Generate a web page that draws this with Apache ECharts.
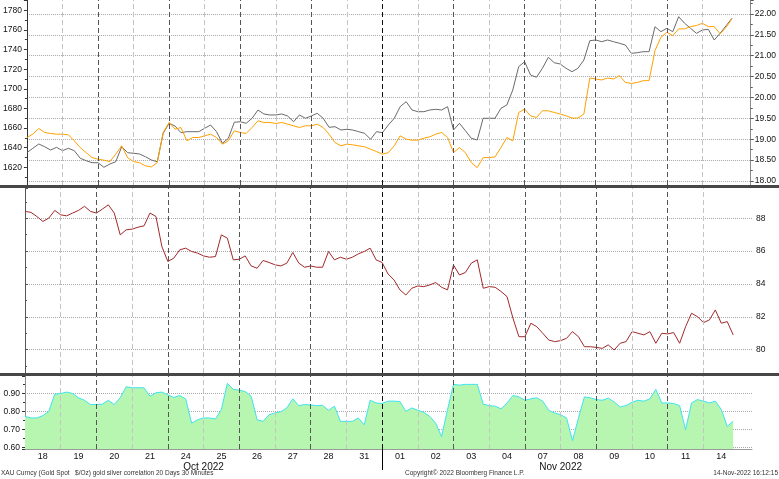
<!DOCTYPE html>
<html>
<head>
<meta charset="utf-8">
<script src="https://cdn.jsdelivr.net/npm/echarts@6/dist/echarts.min.js"></script>
<style>
html,body{margin:0;padding:0;background:#fff;}
#chart{width:779px;height:479px;}
</style>
</head>
<body>
<div id="chart"></div>
<script>
// Trading days shown on the x axis (weekends skipped, one slot per day)
const dayLabels = ['18','19','20','21','24','25','26','27','28','31','01','02','03','04','07','08','09','10','11','14'];
const monthLabels = ['Oct 2022','Nov 2022'];
const monthStartDay = [0, 10];
// sampling step of all series, in trading days
const STEP = 1/6;

// Gold spot (left axis, USD/oz)
const gold = [1650.4,1653.8,1659.6,1655.5,1654.5,1653.8,1653.8,1653.1,1647.0,1640.1,
1635.0,1629.9,1628.3,1627.3,1625.8,1633.4,1641.9,1629.9,1625.8,1624.8,
1621.5,1620.4,1624.8,1655.5,1665.7,1658.9,1660.6,1647.0,1650.4,1650.4,
1652.1,1653.8,1650.4,1643.6,1647.0,1657.2,1655.5,1654.5,1660.6,1667.4,
1665.7,1665.7,1664.7,1665.7,1664.0,1662.3,1660.6,1662.3,1662.3,1664.0,
1660.6,1653.8,1645.3,1641.9,1643.6,1642.9,1641.9,1640.9,1638.5,1636.1,
1633.4,1635.0,1641.9,1652.1,1648.7,1647.7,1647.7,1649.7,1651.1,1653.8,
1655.5,1650.4,1635.0,1640.1,1635.0,1624.8,1619.7,1629.9,1629.9,1630.6,
1640.1,1650.4,1647.0,1675.9,1679.4,1672.5,1670.8,1677.6,1677.6,1675.9,
1674.3,1672.5,1670.2,1670.2,1674.3,1711.0,1710.0,1709.0,1711.0,1710.0,
1713.4,1706.5,1705.5,1706.5,1708.3,1708.3,1738.9,1752.5,1757.6,1754.2,
1761.1,1761.1,1763.4,1764.5,1766.8,1763.4,1763.4,1756.0,1762.7,1771.3];

// Silver spot (right axis, USD/oz)
const silver = [18.678,18.783,18.886,18.821,18.742,18.807,18.726,18.783,18.726,18.544,
18.486,18.438,18.438,18.328,18.407,18.462,18.821,18.678,18.663,18.647,
18.582,18.503,18.462,19.142,19.382,19.317,19.157,19.181,19.181,19.181,
19.262,19.341,19.181,18.903,19.023,19.406,19.420,19.382,19.502,19.700,
19.605,19.581,19.581,19.605,19.557,19.420,19.581,19.502,19.557,19.621,
19.502,19.286,19.300,19.221,19.238,19.221,19.181,19.142,18.999,19.181,
19.157,19.341,19.502,19.780,19.900,19.700,19.660,19.660,19.700,19.717,
19.700,19.780,19.221,19.382,19.205,19.023,18.982,19.502,19.502,19.502,
19.741,19.820,20.179,20.738,20.857,20.539,20.484,20.699,20.962,20.833,
20.802,20.699,20.618,20.699,20.898,21.360,21.377,21.336,21.377,21.336,
21.298,21.257,21.058,21.073,21.097,21.097,21.695,21.576,21.657,21.576,
21.935,21.777,21.657,21.537,21.616,21.633,21.377,21.537,21.720,21.897];

// Gold / silver ratio
const ratio = [88.42,88.36,88.11,87.81,88.01,88.48,88.21,88.15,88.32,88.48,
88.73,88.42,88.32,88.56,88.82,88.32,86.99,87.30,87.34,87.46,
87.54,88.32,88.11,86.28,85.37,85.57,86.08,86.18,85.98,85.88,
85.71,85.63,85.67,86.99,86.79,85.47,85.51,85.71,85.10,84.96,
85.43,85.31,85.17,85.10,85.27,85.92,85.27,85.02,85.10,85.02,
85.02,85.98,85.47,85.63,85.51,85.63,85.83,85.98,86.18,85.47,
85.31,84.61,84.25,83.64,83.33,83.74,83.88,83.84,83.94,84.09,
83.80,83.64,85.16,84.55,84.70,85.27,85.47,83.74,83.84,83.80,
83.54,83.23,81.91,80.79,80.79,81.61,81.40,81.00,80.59,80.49,
80.55,80.69,81.10,80.79,80.18,80.18,80.14,80.08,80.29,79.98,
80.39,80.49,81.10,81.00,80.90,81.10,80.39,81.00,80.96,81.04,
80.39,81.40,82.22,82.01,81.65,81.81,82.42,81.61,81.71,80.90];

// Gold-silver correlation, 20 days of 30-minute bars
const corr = [0.773,0.764,0.764,0.777,0.801,0.897,0.901,0.909,0.901,0.877,
0.863,0.839,0.839,0.841,0.863,0.839,0.877,0.939,0.933,0.933,
0.933,0.886,0.905,0.909,0.894,0.879,0.890,0.871,0.735,0.754,
0.764,0.764,0.758,0.811,0.958,0.924,0.920,0.912,0.886,0.754,
0.745,0.782,0.792,0.799,0.820,0.871,0.833,0.839,0.837,0.833,
0.835,0.807,0.830,0.745,0.745,0.745,0.764,0.726,0.863,0.848,
0.845,0.858,0.858,0.856,0.801,0.820,0.807,0.796,0.773,0.735,
0.660,0.811,0.952,0.948,0.952,0.952,0.952,0.841,0.833,0.830,
0.815,0.848,0.890,0.882,0.863,0.871,0.877,0.858,0.807,0.792,
0.782,0.764,0.637,0.764,0.882,0.877,0.867,0.863,0.875,0.854,
0.826,0.833,0.852,0.863,0.858,0.871,0.924,0.848,0.848,0.845,
0.833,0.698,0.848,0.867,0.858,0.848,0.858,0.811,0.717,0.745];

const footerLeft = 'XAU Curncy (Gold Spot   $/Oz) gold silver correlation 20 Days 30 Minutes';
const footerMid = 'Copyright\u00a9 2022 Bloomberg Finance L.P.';
const footerRight = '14-Nov-2022 16:12:15';

// ---------- build ----------
const XMAX = 20.36;
const FONT = '"Liberation Sans", Arial, sans-serif';
const pts = arr => arr.map((v, i) => [i * STEP, v]);
const isMult = (v, m) => Math.abs(v / m - Math.round(v / m)) < 1e-6;

const boundaries = [];
for (let i = 1; i < dayLabels.length; i++) boundaries.push(i);
const monthBoundary = monthStartDay[1];
function dayLines() {
  return {
    silent: true, symbol: ['none', 'none'], animation: false,
    label: { show: false },
    data: boundaries.map(i => ({
      xAxis: i,
      lineStyle: {
        color: i === monthBoundary ? '#111' : (i % 2 === 0 ? '#555' : '#c4c4c4'),
        type: [5, 3], width: 1
      }
    }))
  };
}
const monthCenters = monthStartDay.map((s, i) => {
  const e = i + 1 < monthStartDay.length ? monthStartDay[i + 1] : dayLabels.length;
  return (s + e) / 2;
});

const L = 25, R = 27;
const grids = [
  { left: L, right: R, top: 0, height: 185 },
  { left: L, right: R, top: 188, height: 185 },
  { left: L, right: R, top: 376, height: 73 },
  { left: L, right: R, top: 449, height: 21 }
];
const hiddenX = g => ({ type: 'value', gridIndex: g, min: 0, max: XMAX, show: false });
const labelStyle = { fontSize: 8.5, color: '#111', fontFamily: FONT };
const grid = { lineStyle: { color: '#a8a8a8', type: 'dotted', width: 1 }, showMinLine: false, showMaxLine: false };

const option = {
  animation: false,
  backgroundColor: '#ffffff',
  grid: grids,
  title: [
    { text: footerLeft, left: 1, top: 470, padding: 0, textStyle: { fontSize: 6.5, fontWeight: 'normal', color: '#333', fontFamily: FONT } },
    { text: footerMid, left: 405, top: 470, padding: 0, textStyle: { fontSize: 6.5, fontWeight: 'normal', color: '#333', fontFamily: FONT } },
    { text: footerRight, right: 1, top: 470, padding: 0, textStyle: { fontSize: 6.5, fontWeight: 'normal', color: '#333', fontFamily: FONT } }
  ],
  xAxis: [
    hiddenX(0),
    hiddenX(1),
    {
      type: 'value', gridIndex: 2, position: 'bottom', min: 0, max: XMAX, interval: 0.5,
      axisLine: { show: true, lineStyle: { color: '#9a9a9a' } },
      axisTick: { show: false }, splitLine: { show: false },
      axisLabel: {
        margin: 3, fontSize: 9, color: '#111', fontFamily: FONT,
        formatter: v => {
          const d = Math.floor(v + 1e-9);
          return Math.abs(v - d - 0.5) < 1e-6 && d < dayLabels.length ? dayLabels[d] : '';
        }
      }
    },
    {
      type: 'value', gridIndex: 2, position: 'bottom', min: 0, max: XMAX, interval: 5, offset: 10,
      axisLine: { show: false }, axisTick: { show: false }, splitLine: { show: false },
      axisLabel: {
        margin: 3, fontSize: 10, color: '#111', fontFamily: FONT,
        formatter: v => {
          const i = monthCenters.findIndex(c => Math.abs(c - v) < 1e-6);
          return i >= 0 ? monthLabels[i] : '';
        }
      }
    },
    hiddenX(3)
  ],
  yAxis: [
    { // gold, left, top panel
      type: 'value', gridIndex: 0, position: 'left', min: 1602, max: 1790.5, splitNumber: 9,
      axisLine: { show: true, lineStyle: { color: '#333' } },
      axisTick: { show: true, length: 3, lineStyle: { color: '#333' } },
      minorTick: { show: true, splitNumber: 2, length: 2, lineStyle: { color: '#333' } },
      splitLine: { show: false },
      axisLabel: Object.assign({ margin: 5, formatter: v => (isMult(v, 20) && v >= 1620 && v <= 1780) ? String(Math.round(v)) : '' }, labelStyle)
    },
    { // silver, right, top panel
      type: 'value', gridIndex: 0, position: 'right', min: 17.904, max: 22.335, splitNumber: 9,
      axisLine: { show: true, lineStyle: { color: '#8a8a8a' } },
      axisTick: { show: true, length: 3, lineStyle: { color: '#555' } },
      minorTick: { show: true, splitNumber: 2, length: 2, lineStyle: { color: '#555' } },
      splitLine: Object.assign({ show: true }, grid),
      axisLabel: Object.assign({ margin: 4, formatter: v => (isMult(v, 0.5) && v >= 17.99 && v <= 22.01) ? v.toFixed(2) : '' }, labelStyle)
    },
    { // ratio, right, middle panel
      type: 'value', gridIndex: 1, position: 'right', min: 78.58, max: 89.845, splitNumber: 6,
      axisLine: { show: true, lineStyle: { color: '#8a8a8a' } },
      axisTick: { show: true, length: 3, lineStyle: { color: '#555' } },
      minorTick: { show: true, splitNumber: 2, length: 2, lineStyle: { color: '#555' } },
      splitLine: Object.assign({ show: true }, grid),
      axisLabel: Object.assign({ margin: 4, formatter: v => (isMult(v, 2) && v >= 79.9 && v <= 88.1) ? String(Math.round(v)) : '' }, labelStyle)
    },
    { // frame line, left, middle panel
      type: 'value', gridIndex: 1, position: 'left', min: 0, max: 1,
      axisLine: { show: true, lineStyle: { color: '#555' } },
      axisTick: { show: false }, axisLabel: { show: false }, splitLine: { show: false }
    },
    { // correlation, left, bottom panel
      type: 'value', gridIndex: 2, position: 'left', min: 0.59, max: 0.999, splitNumber: 4,
      axisLine: { show: true, lineStyle: { color: '#333' } },
      axisTick: { show: true, length: 3, lineStyle: { color: '#333' } },
      minorTick: { show: true, splitNumber: 2, length: 2, lineStyle: { color: '#333' } },
      splitLine: Object.assign({ show: true }, grid),
      axisLabel: Object.assign({ margin: 5, formatter: v => (isMult(v, 0.1) && v >= 0.599 && v <= 0.951) ? v.toFixed(2) : '' }, labelStyle)
    },
    { // frame line, right, bottom panel
      type: 'value', gridIndex: 2, position: 'right', min: 0, max: 1,
      axisLine: { show: true, lineStyle: { color: '#8a8a8a' } },
      axisTick: { show: false }, axisLabel: { show: false }, splitLine: { show: false }
    },
    { type: 'value', gridIndex: 3, min: 0, max: 1, show: false }
  ],
  series: [
    {
      name: 'Silver', type: 'line', xAxisIndex: 0, yAxisIndex: 1, data: pts(silver),
      symbol: 'none', lineStyle: { color: '#6a6a6a', width: 1 }, z: 2,
      markLine: dayLines()
    },
    {
      name: 'Gold', type: 'line', xAxisIndex: 0, yAxisIndex: 0, data: pts(gold),
      symbol: 'none', lineStyle: { color: '#ffa000', width: 1 }, z: 3
    },
    {
      name: 'Gold/Silver', type: 'line', xAxisIndex: 1, yAxisIndex: 2, data: pts(ratio),
      symbol: 'none', lineStyle: { color: '#a3292b', width: 1 }, z: 3,
      markLine: dayLines()
    },
    {
      name: 'Correlation', type: 'line', xAxisIndex: 2, yAxisIndex: 4, data: pts(corr),
      symbol: 'none', lineStyle: { color: '#3fe3f0', width: 1 },
      areaStyle: { color: '#b6f6b0', opacity: 1 }, z: 3,
      markLine: dayLines()
    },
    {
      name: 'month', type: 'line', xAxisIndex: 4, yAxisIndex: 6, data: [],
      markLine: {
        silent: true, symbol: ['none', 'none'], animation: false, label: { show: false },
        data: [{ xAxis: monthBoundary, lineStyle: { color: '#000', type: 'solid', width: 1 } }]
      }
    }
  ],
  graphic: [
    { type: 'line', z: 100, shape: { x1: 0, y1: 186.5, x2: 779, y2: 186.5 }, style: { stroke: '#474747', lineWidth: 3 } },
    { type: 'line', z: 100, shape: { x1: 0, y1: 374.5, x2: 779, y2: 374.5 }, style: { stroke: '#474747', lineWidth: 3 } }
  ]
};

const chart = echarts.init(document.getElementById('chart'), null, { renderer: 'canvas' });
chart.setOption(option);
</script>
</body>
</html>
